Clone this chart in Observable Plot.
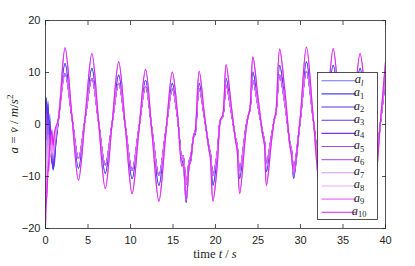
<!DOCTYPE html>
<html>
<head>
<meta charset="utf-8">
<script src="https://cdn.jsdelivr.net/npm/d3@7"></script>
<script src="https://cdn.jsdelivr.net/npm/@observablehq/plot@0.6"></script>
<style>
  html, body { margin: 0; padding: 0; background: #fff; }
  #chart { position: relative; width: 415px; height: 266px; }
</style>
</head>
<body>
<div id="chart"></div>
<script>
// ---- data ----
const xTicks = [0, 5, 10, 15, 20, 25, 30, 35, 40];
const yTicks = [-20, -10, 0, 10, 20];

const seriesNames = ["l", "1", "2", "3", "4", "5", "6", "7", "8", "9", "10"];
const seriesColors = ["#7272ff", "#4646e6", "#5533ff", "#5c3ae8", "#7a2eff", "#9a4cf2",
                      "#b36cf0", "#d29af2", "#e2b0f6", "#f070fa", "#e020f0"];

// start-up transient (0 .. 1.2 s), one array per series
const tTrans = [0, 0.1, 0.2, 0.3, 0.4, 0.5, 0.6, 0.75, 0.9, 1.05, 1.2];
const transL  = [4, 5, 0.5, 4.5, -1, 2, -3, -6, -8.5, -7.5, -4];
const trans1  = [3, 5.2, -1, 4, -2, 1, -4, -6.5, -8.8, -7, -4];
const trans2  = [1, 4.5, -2, 3.5, -3, 0.5, -4.5, -7, -8.5, -6.5, -3.5];
const trans3  = [-1, 4, -3, 3, -4, 0, -5, -7, -8, -6, -3.5];
const trans4  = [-3, 3, -5, 2, -5, -1, -5, -6.5, -7.5, -5.5, -3];
const trans5  = [-5, 2, -7, 1, -6, -2, -5.5, -6, -7, -5, -3];
const trans6  = [-7, 0, -9, 0, -7, -3, -6, -5, -6.5, -4.5, -2.5];
const trans7  = [-10, -3, -11, -2, -8, -4, -6, -4, -6, -3.5, -2];
const trans8  = [-13, -6, -13, -4, -9, -5, -5.5, -3, -5.5, -3, -1.5];
const trans9  = [-16, -10, -14, -7, -9, -4, -5, -2, -5, -2, -1];
const trans10 = [-19.5, -15, -12, -9, -7, -4, -3, -1, -4, -1.5, -0.5];

// steady oscillation: three visible envelopes (large, leader-like, small)
const tSteady = [1.51, 2.30, 3.09, 3.88, 4.67, 5.46, 6.24, 7.03, 7.82, 8.61, 9.40, 10.19, 10.98,
  11.77, 12.55, 13.34, 14.13, 14.92, 15.50, 16.05, 16.20, 16.55, 16.90, 17.10, 17.45, 17.60,
  18.08, 18.70, 19.25, 19.40, 19.70, 20.20, 20.60, 20.85, 21.25, 21.85, 22.35, 22.55, 22.85,
  23.60, 23.90, 24.05, 24.40, 25.00, 25.55, 25.75, 26.00, 26.60, 26.95, 27.10, 27.55, 28.15,
  28.75, 28.95, 29.20, 29.95, 30.70, 31.49, 32.27, 33.06, 33.85, 34.64, 35.43, 36.22, 37.01,
  37.85, 38.70, 39.45, 40.00];
const hiVals = [1.0, 14.75, 2.0, -10.7, 1.5, 13.65, 0.7, -12.3, -0.1, 12.05, -0.6, -13.3, -1.35,
  10.6, -2.1, -14.75, -2.3, 10.1, 2.7, -8.0, -7.5, -14.5, -8.0, -6.5, -2.2, -1.5,
  10.25, 1.8, -5.0, -6.5, -14.75, -8.0, 1.0, 1.8, 11.5, 3.7, -3.0, -5.0, -13.3,
  -1.0, 2.0, 3.0, 13.0, 5.2, -2.0, -3.8, -11.7, -3.0, 1.3, 2.3, 14.5, 6.65,
  -4.0, -6.0, -9.5, 1.0, 14.9, 1.45, -12.0, 1.3, 14.6, 1.3, -12.0, 1.0, 13.65,
  1.0, -12.0, 1.5, 12.0];
const midVals = [0.5, 11.7, 1.65, -8.4, 1.2, 10.8, 0.7, -9.4, 0.05, 9.5, -0.45, -10.4, -0.95,
  8.5, -1.6, -11.7, -1.9, 7.9, 2.0, -7.0, -7.5, -15.0, -8.0, -7.0, -2.3, -2.0,
  7.9, 1.3, -5.0, -6.0, -11.7, -6.5, 1.0, 1.5, 8.85, 2.75, -2.7, -4.5, -10.4,
  -0.5, 2.0, 2.8, 10.1, 4.1, -2.0, -3.5, -9.1, -2.5, 1.3, 2.0, 11.4, 5.0,
  -4.0, -5.5, -10.4, 0.5, 12.05, 1.3, -9.5, 1.0, 11.4, 1.0, -9.5, 0.8, 10.8,
  0.8, -9.5, 1.0, 10.0];
const loVals = [0.8, 9.8, 1.65, -6.5, 1.2, 8.85, 0.5, -7.8, 0.05, 7.9, -0.45, -8.8, -0.8,
  7.25, -1.25, -9.75, -1.5, 6.8, 1.8, -6.5, -6.0, -11.5, -7.0, -6.0, -2.0, -1.5,
  6.9, 1.3, -4.5, -5.5, -9.75, -5.5, 1.0, 1.5, 7.55, 2.4, -2.5, -4.0, -8.8,
  -0.3, 2.0, 2.7, 8.5, 3.5, -1.5, -3.0, -7.5, -2.0, 1.2, 2.0, 9.5, 4.1,
  -3.5, -5.0, -8.5, 0.5, 10.25, 1.1, -8.0, 1.0, 9.5, 1.0, -8.0, 0.8, 9.0,
  0.8, -8.0, 1.0, 9.0];

// ---- assemble ----
const transients = [transL, trans1, trans2, trans3, trans4, trans5, trans6, trans7, trans8, trans9, trans10];
const steadyOf = [midVals, midVals, loVals, loVals, loVals, loVals, loVals, hiVals, hiVals, loVals, hiVals];

const series = seriesNames.map((name, i) => ({
  name,
  color: seriesColors[i],
  rows: tTrans.map((t, j) => ({t, v: transients[i][j]}))
    .concat(tSteady.map((t, j) => ({t, v: steadyOf[i][j]})))
}));

const axisColor = "#262626";
const tickFont = "Liberation Sans, Arial, Helvetica, sans-serif";

const plot = Plot.plot({
  width: 415,
  height: 266,
  marginLeft: 45,
  marginRight: 30,
  marginTop: 20,
  marginBottom: 38,
  style: {background: "#fff", overflow: "visible"},
  x: {domain: [0, 40]},
  y: {domain: [-20, 20]},
  marks: [
    ...series.map(s => Plot.line(s.rows, {
      x: "t", y: "v", stroke: s.color, strokeWidth: 1.1, curve: "catmull-rom", clip: true
    })),
    Plot.frame({stroke: axisColor, strokeWidth: 0.8}),
    // inward ticks on all four sides
    Plot.axisX(xTicks, {anchor: "bottom", tickSize: 4, dy: -4, fill: "none", stroke: axisColor, strokeWidth: 0.8, label: null}),
    Plot.axisX(xTicks, {anchor: "top", tickSize: 4, dy: 4, fill: "none", stroke: axisColor, strokeWidth: 0.8, label: null}),
    Plot.axisY(yTicks, {anchor: "left", tickSize: 4, dx: 4, fill: "none", stroke: axisColor, strokeWidth: 0.8, label: null}),
    Plot.axisY(yTicks, {anchor: "right", tickSize: 4, dx: -4, fill: "none", stroke: axisColor, strokeWidth: 0.8, label: null}),
    // tick labels
    Plot.axisX(xTicks, {anchor: "bottom", tickSize: 0, tickPadding: 8, stroke: "none", fill: axisColor,
      fontSize: 11, fontFamily: tickFont, label: null}),
    Plot.axisY(yTicks, {anchor: "left", tickSize: 0, tickPadding: 5, stroke: "none", fill: axisColor,
      fontSize: 11, fontFamily: tickFont, label: null})
  ]
});

const svg = d3.select(plot);
const serif = "Liberation Serif, DejaVu Serif, Times New Roman, serif";

// x label
const xl = svg.append("text")
  .attr("x", 215).attr("y", 258)
  .attr("text-anchor", "middle")
  .attr("font-family", serif).attr("font-size", 12.5).attr("fill", axisColor);
xl.append("tspan").text("time ");
xl.append("tspan").attr("font-style", "italic").text("t");
xl.append("tspan").text(" / ");
xl.append("tspan").attr("font-style", "italic").text("s");

// y label
const yl = svg.append("text")
  .attr("transform", "translate(18,124) rotate(-90)")
  .attr("text-anchor", "middle")
  .attr("font-family", serif).attr("font-size", 13).attr("fill", axisColor);
yl.append("tspan").attr("font-style", "italic").text("a");
yl.append("tspan").text(" = ");
yl.append("tspan").attr("font-style", "italic").text("v\u0307");
yl.append("tspan").text(" / ");
yl.append("tspan").attr("font-style", "italic").text("m");
yl.append("tspan").text("/");
yl.append("tspan").attr("font-style", "italic").text("s");
yl.append("tspan").attr("dy", -5).attr("font-size", 9).text("2");

// legend
const lg = svg.append("g");
lg.append("rect")
  .attr("x", 317.5).attr("y", 72.5).attr("width", 60).attr("height", 147)
  .attr("fill", "#fff").attr("stroke", axisColor).attr("stroke-width", 0.8);
series.forEach((s, i) => {
  const y = 80.7 + i * 13.16;
  lg.append("line")
    .attr("x1", 321.5).attr("x2", 356).attr("y1", y).attr("y2", y)
    .attr("stroke", s.color).attr("stroke-width", 1.1);
  const t = lg.append("text")
    .attr("x", 359).attr("y", y + 2.5)
    .attr("font-family", serif).attr("font-size", 12.5).attr("fill", axisColor);
  t.append("tspan").attr("font-style", "italic").text("a");
  t.append("tspan").attr("dy", 2.5).attr("font-size", 8.5)
    .attr("font-style", s.name === "l" ? "italic" : "normal").text(s.name);
});

document.getElementById("chart").appendChild(plot);
</script>
</body>
</html>
